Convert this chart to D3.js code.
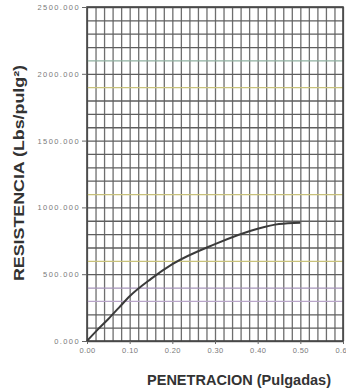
<!DOCTYPE html>
<html>
<head>
<meta charset="utf-8">
<script src="https://cdn.jsdelivr.net/npm/d3@7"></script>
<style>
  body { margin: 0; background: #fff; }
  svg { display: block; font-family: "Liberation Sans", Arial, sans-serif; }
  .axe text { fill: #7a7a7a; font-size: 7.5px; }
  .axe path { display: none; }
  .axe line { stroke: #666; }
</style>
</head>
<body>
<div id="graph"></div>
<script>
// Données
let penetration = [0, 0.025, 0.05, 0.075, 0.10, 0.15, 0.20, 0.30, 0.40, 0.45, 0.50];
let resistance  = [0, 85, 165, 250, 335, 465, 575, 725, 840, 875, 885];

// graduations
let ticksX = [0, 0.1, 0.2, 0.3, 0.4, 0.5, 0.6];
let ticksY = [0, 500, 1000, 1500, 2000, 2500];

// teintes des lignes horizontales (scan)
let teintes = {300: "#b9a6c9", 400: "#a493b8", 600: "#c9c27a", 1100: "#c7c07a", 1900: "#c8c27c", 2100: "#8fb0a0"};

let marges = {haut: 7, droit: 3, bas: 49, gauche: 87},
    largeurTotale = 346,
    hauteurTotale = 390,
    largeurInterne = largeurTotale - marges.gauche - marges.droit,
    hauteurInterne = hauteurTotale - marges.haut - marges.bas;

let echelleX = d3.scaleLinear().domain([0, 0.6]).range([0, largeurInterne]);
let echelleY = d3.scaleLinear().domain([0, 2500]).range([hauteurInterne, 0]);

let svg = d3.select("#graph").append("svg")
    .attr("width", largeurTotale)
    .attr("height", hauteurTotale);

let graphique = svg.append("g")
    .attr("transform", "translate(" + marges.gauche + "," + marges.haut + ")");

// quadrillage vertical (tous les 0.02)
graphique.append("g")
    .attr("class", "grille-x")
    .attr("transform", "translate(0," + hauteurInterne + ")")
    .call(d3.axisBottom(echelleX).tickValues(d3.range(31).map(i => i * 0.02)).tickSize(-hauteurInterne).tickFormat(""))
    .call(g => g.select(".domain").remove())
    .selectAll("line")
    .attr("stroke", "#6e6e6e")
    .attr("stroke-width", 1.3);

// quadrillage horizontal (tous les 100)
graphique.append("g")
    .attr("class", "grille-y")
    .call(d3.axisLeft(echelleY).tickValues(d3.range(26).map(i => i * 100)).tickSize(-largeurInterne).tickFormat(""))
    .call(g => g.select(".domain").remove())
    .selectAll("line")
    .attr("stroke", d => teintes[Math.round(d)] || "#5e5e5e")
    .attr("stroke-width", 1.3);

// cadre
graphique.append("rect")
    .attr("width", largeurInterne)
    .attr("height", hauteurInterne)
    .attr("fill", "none")
    .attr("stroke", "#444")
    .attr("stroke-width", 1.6);

// axe Y
graphique.append("g")
    .attr("class", "axe")
    .call(d3.axisLeft(echelleY).tickValues(ticksY).tickFormat(d3.format(".3f")).tickSize(5).tickPadding(2))
    .selectAll("text")
    .style("letter-spacing", "1.4px");

// axe X
graphique.append("g")
    .attr("class", "axe")
    .attr("transform", "translate(0," + hauteurInterne + ")")
    .call(d3.axisBottom(echelleX).tickValues(ticksX).tickFormat(d3.format(".2f")).tickSize(3).tickPadding(4))
    .selectAll("text")
    .style("letter-spacing", "0.4px");

// courbe
let donnees = penetration.map((p, i) => ({x: p, y: resistance[i]}));
let ligne = d3.line()
    .x(d => echelleX(d.x))
    .y(d => echelleY(d.y))
    .curve(d3.curveMonotoneX);

graphique.append("path")
    .datum(donnees)
    .attr("d", ligne)
    .attr("fill", "none")
    .attr("stroke", "#3a3a3a")
    .attr("stroke-width", 2);

// titres
svg.append("text")
    .attr("x", 239)
    .attr("y", 385)
    .attr("text-anchor", "middle")
    .attr("font-weight", "bold")
    .attr("font-size", 14)
    .attr("fill", "#333")
    .attr("textLength", 184)
    .attr("lengthAdjust", "spacingAndGlyphs")
    .text("PENETRACION  (Pulgadas)");

svg.append("text")
    .attr("transform", "translate(24,173) rotate(-90)")
    .attr("text-anchor", "middle")
    .attr("font-weight", "bold")
    .attr("font-size", 14)
    .attr("fill", "#333")
    .attr("textLength", 216)
    .attr("lengthAdjust", "spacingAndGlyphs")
    .text("RESISTENCIA  (Lbs/pulg²)");
</script>
</body>
</html>
